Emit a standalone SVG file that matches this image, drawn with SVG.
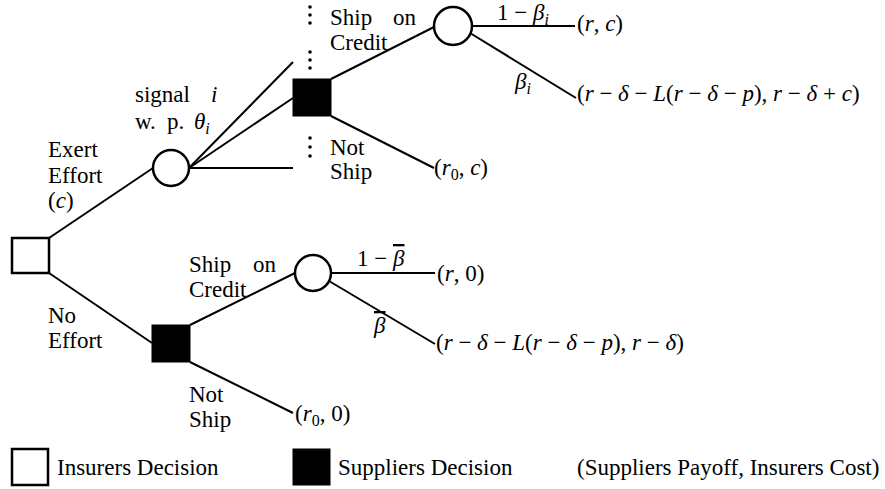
<svg xmlns="http://www.w3.org/2000/svg" width="885" height="489" viewBox="0 0 885 489" font-family="Liberation Serif, Times New Roman, serif">
  <style>
    text { font-size: 23px; fill: #000; }
    .m { font-style: italic; }
    .s { font-size: 16px; }
    .bar { text-decoration: overline; }
    .e { stroke: #000; stroke-width: 2; fill: none; }
    .chance { fill: #fff; stroke: #000; stroke-width: 2.5; }
    .insurer { fill: #fff; stroke: #000; stroke-width: 2.5; }
    .supplier { fill: #000; stroke: #000; stroke-width: 1; }
    .dot { fill: #000; }
  </style>

  <!-- branches -->
  <g id="connectors">
    <line class="e" x1="49" y1="238" x2="153" y2="168"/>
    <line class="e" x1="49" y1="273" x2="152" y2="343"/>
    <!-- signal fan -->
    <line class="e" x1="189" y1="168" x2="293" y2="62"/>
    <line class="e" x1="189" y1="168" x2="293" y2="98"/>
    <line class="e" x1="189" y1="168" x2="293" y2="168"/>
    <!-- supplier decision after signal -->
    <line class="e" x1="331" y1="79" x2="434" y2="27"/>
    <line class="e" x1="331" y1="116" x2="434" y2="168"/>
    <line class="e" x1="472" y1="26" x2="575" y2="26"/>
    <line class="e" x1="470" y1="33" x2="576" y2="98"/>
    <!-- supplier decision without effort -->
    <line class="e" x1="190" y1="325" x2="295" y2="273"/>
    <line class="e" x1="190" y1="362" x2="293" y2="413"/>
    <line class="e" x1="331" y1="273" x2="435" y2="273"/>
    <line class="e" x1="329" y1="281" x2="435" y2="344"/>
  </g>

  <!-- nodes -->
  <g id="root">
    <rect class="insurer" x="12" y="238" width="37" height="35"/>
  </g>
  <g id="signal">
    <circle class="chance" cx="171" cy="168" r="18"/>
  </g>
  <g id="supplier-effort">
    <rect class="supplier" x="293" y="79" width="38" height="37"/>
  </g>
  <g id="default-effort">
    <circle class="chance" cx="453" cy="26" r="19"/>
  </g>
  <g id="supplier-noeffort">
    <rect class="supplier" x="152" y="325" width="38" height="37"/>
  </g>
  <g id="default-noeffort">
    <circle class="chance" cx="313" cy="273" r="18"/>
  </g>

  <!-- vertical ellipses between signal branches -->
  <g id="ellipses">
    <circle class="dot" cx="310" cy="7" r="1.8"/>
    <circle class="dot" cx="310" cy="15" r="1.8"/>
    <circle class="dot" cx="310" cy="23" r="1.8"/>
    <circle class="dot" cx="310" cy="52" r="1.8"/>
    <circle class="dot" cx="310" cy="60" r="1.8"/>
    <circle class="dot" cx="310" cy="68" r="1.8"/>
    <circle class="dot" cx="310" cy="138" r="1.8"/>
    <circle class="dot" cx="310" cy="147" r="1.8"/>
    <circle class="dot" cx="310" cy="156" r="1.8"/>
  </g>

  <!-- branch labels -->
  <g id="labels">
    <text x="135" y="102">signal<tspan class="m" x="211">i</tspan></text>
    <text x="135" y="129">w.<tspan x="167">p.</tspan><tspan class="m" x="194">θ</tspan><tspan class="m s" dy="5">i</tspan></text>
    <text x="48" y="157">Exert</text>
    <text x="48" y="183">Effort</text>
    <text x="48" y="208">(<tspan class="m">c</tspan>)</text>
    <text x="48" y="323">No</text>
    <text x="48" y="348">Effort</text>

    <text x="330" y="25">Ship<tspan x="393">on</tspan></text>
    <text x="330" y="50">Credit</text>
    <text x="330" y="155">Not</text>
    <text x="330" y="179">Ship</text>

    <text x="189" y="272">Ship<tspan x="253">on</tspan></text>
    <text x="189" y="297">Credit</text>
    <text x="189" y="402">Not</text>
    <text x="189" y="427">Ship</text>

    <text x="497" y="20">1 − <tspan class="m">β</tspan><tspan class="m s" dy="5">i</tspan></text>
    <text x="515" y="89"><tspan class="m">β</tspan><tspan class="m s" dy="5">i</tspan></text>
    <text x="357" y="266">1 − <tspan class="m bar">β</tspan></text>
    <text x="374" y="333"><tspan class="m bar">β</tspan></text>
  </g>

  <!-- payoffs -->
  <g id="payoffs">
    <text x="577" y="31">(<tspan class="m">r</tspan>, <tspan class="m">c</tspan>)</text>
    <text x="577" y="101">(<tspan class="m">r</tspan> − <tspan class="m">δ</tspan> − <tspan class="m">L</tspan>(<tspan class="m">r</tspan> − <tspan class="m">δ</tspan> − <tspan class="m">p</tspan>), <tspan class="m">r</tspan> − <tspan class="m">δ</tspan> + <tspan class="m">c</tspan>)</text>
    <text x="434" y="175">(<tspan class="m">r</tspan><tspan class="s" dy="5">0</tspan><tspan dy="-5">, </tspan><tspan class="m">c</tspan>)</text>
    <text x="437" y="281">(<tspan class="m">r</tspan>, 0)</text>
    <text x="436" y="350">(<tspan class="m">r</tspan> − <tspan class="m">δ</tspan> − <tspan class="m">L</tspan>(<tspan class="m">r</tspan> − <tspan class="m">δ</tspan> − <tspan class="m">p</tspan>), <tspan class="m">r</tspan> − <tspan class="m">δ</tspan>)</text>
    <text x="295" y="421">(<tspan class="m">r</tspan><tspan class="s" dy="5">0</tspan><tspan dy="-5">, 0)</tspan></text>
  </g>

  <!-- legend -->
  <g id="legend">
    <rect class="insurer" x="12" y="449" width="36" height="36"/>
    <text x="57" y="475">Insurers Decision</text>
    <rect class="supplier" x="293" y="449" width="37" height="36"/>
    <text x="338" y="475">Suppliers Decision</text>
    <text x="577" y="475">(Suppliers Payoff, Insurers Cost)</text>
  </g>
</svg>
